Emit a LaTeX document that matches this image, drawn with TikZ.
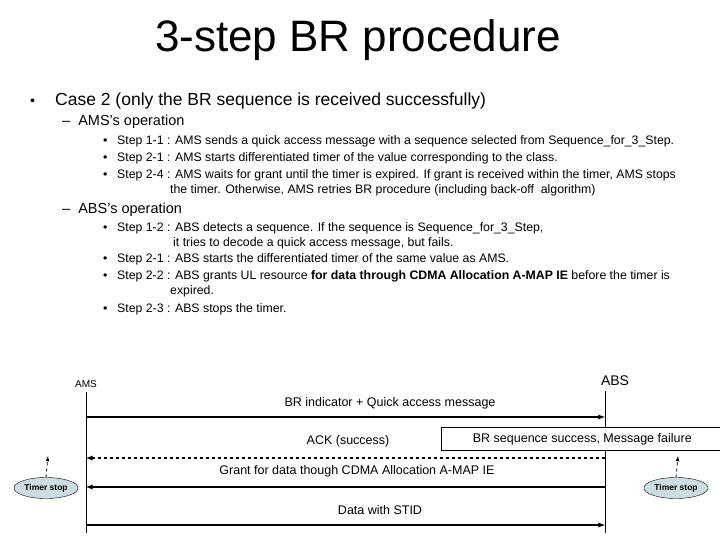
\documentclass[tikz,border=0pt]{standalone}
\usepackage{fontspec}
\setmainfont{Liberation Sans}
\usetikzlibrary{shapes.geometric}
\begin{document}
\begin{tikzpicture}[x=1pt,y=-1pt,
  txt/.style={anchor=base west,inner sep=0pt},
  st/.style={txt,font=\fontsize{12.3}{14}\selectfont},
  dg/.style={inner sep=0pt,font=\fontsize{12.5}{14}\selectfont},
  msg/.style={line width=1.3pt,-latex},
  life/.style={line width=0.5pt},
  timer/.style={ellipse,draw,fill=cyan!30!gray!35,inner sep=1pt,minimum width=56pt,minimum height=21pt,font=\bfseries\fontsize{8.5}{9}\selectfont}]
\useasboundingbox (0,0) rectangle (720,540);
\node[inner sep=0pt,font=\fontsize{44}{48}\selectfont] (title) at (358,40) {3-step BR procedure};
\node[txt,font=\fontsize{14}{16}\selectfont] (b0) at (30,106) {•};
\node[txt,font=\fontsize{17.5}{20}\selectfont] (case) at (55,106) {Case 2 (only the BR sequence is received successfully)};
\node[txt,font=\fontsize{14.5}{16}\selectfont] (ams) at (62,126) {–\ \ AMS's operation};
\foreach \y in {145,162,179} \node[st] at (103,\y) {•};
\node[st] (a1) at (117,145) {Step 1-1 : AMS sends a quick access message with a sequence selected from Sequence\_for\_3\_Step.};
\node[st] (a2) at (117,162) {Step 2-1 : AMS starts differentiated timer of the value corresponding to the class.};
\node[st] (a3) at (117,179) {Step 2-4 : AMS waits for grant until the timer is expired. If grant is received within the timer, AMS stops};
\node[st] (a3b) at (170,194) {the timer. Otherwise, AMS retries BR procedure (including back-off\ \ algorithm)};
\node[txt,font=\fontsize{14.5}{16}\selectfont] (abs) at (62,214) {–\ \ ABS's operation};
\foreach \y in {232,262,279,312} \node[st] at (103,\y) {•};
\node[st] (b1) at (117,232) {Step 1-2 : ABS detects a sequence. If the sequence is Sequence\_for\_3\_Step,};
\node[st] (b1b) at (173,246) {it tries to decode a quick access message, but fails.};
\node[st] (b2) at (117,262) {Step 2-1 : ABS starts the differentiated timer of the same value as AMS.};
\node[st] (b3) at (117,279) {Step 2-2 : ABS grants UL resource \textbf{for data through CDMA Allocation A-MAP IE} before the timer is};
\node[st] (b3b) at (170,294) {expired.};
\node[st] (b4) at (117,312) {Step 2-3 : ABS stops the timer.};
% diagram
\node[dg,font=\fontsize{10}{11}\selectfont] (lA) at (86,384) {AMS};
\node[dg,font=\fontsize{14}{15}\selectfont] (lB) at (615,381) {ABS};
\coordinate (At) at (86,392); \coordinate (Ab) at (86,533);
\coordinate (Bt) at (605,391); \coordinate (Bb) at (605,533);
\draw[life] (At) -- (Ab); \draw[life] (Bt) -- (Bb);
\coordinate (A1) at (86,417); \coordinate (B1) at (605,417);
\coordinate (A2) at (86,458); \coordinate (B2) at (605,458);
\coordinate (A3) at (86,487); \coordinate (B3) at (605,487);
\coordinate (A4) at (86,525); \coordinate (B4) at (605,525);
\draw[msg] (A1) -- (B1);
\draw[msg,dashed] (B2) -- (A2);
\draw[msg] (B3) -- (A3);
\draw[msg] (A4) -- (B4);
\node[dg] (m1) at (390,403) {BR indicator + Quick access message};
\node[dg] (m2) at (348,441) {ACK (success)};
\node[dg] (m3) at (357,471) {Grant for data though CDMA Allocation A-MAP IE};
\node[dg] (m4) at (380,510) {Data with STID};
\node[draw,fill=white,minimum width=282pt,minimum height=23pt,anchor=west,dg,line width=0.6pt] (box) at (441,439) {BR sequence success, Message failure};
\node[timer] (t1) at (46,488) {Timer stop};
\node[timer] (t2) at (676,488) {Timer stop};
\coordinate (t1a) at (48,456); \coordinate (t2a) at (678,456);
\draw[dashed,line width=0.8pt,-latex] (t1.north) -- (t1a);
\draw[dashed,line width=0.8pt,-latex] (t2.north) -- (t2a);
\end{tikzpicture}
\end{document}
